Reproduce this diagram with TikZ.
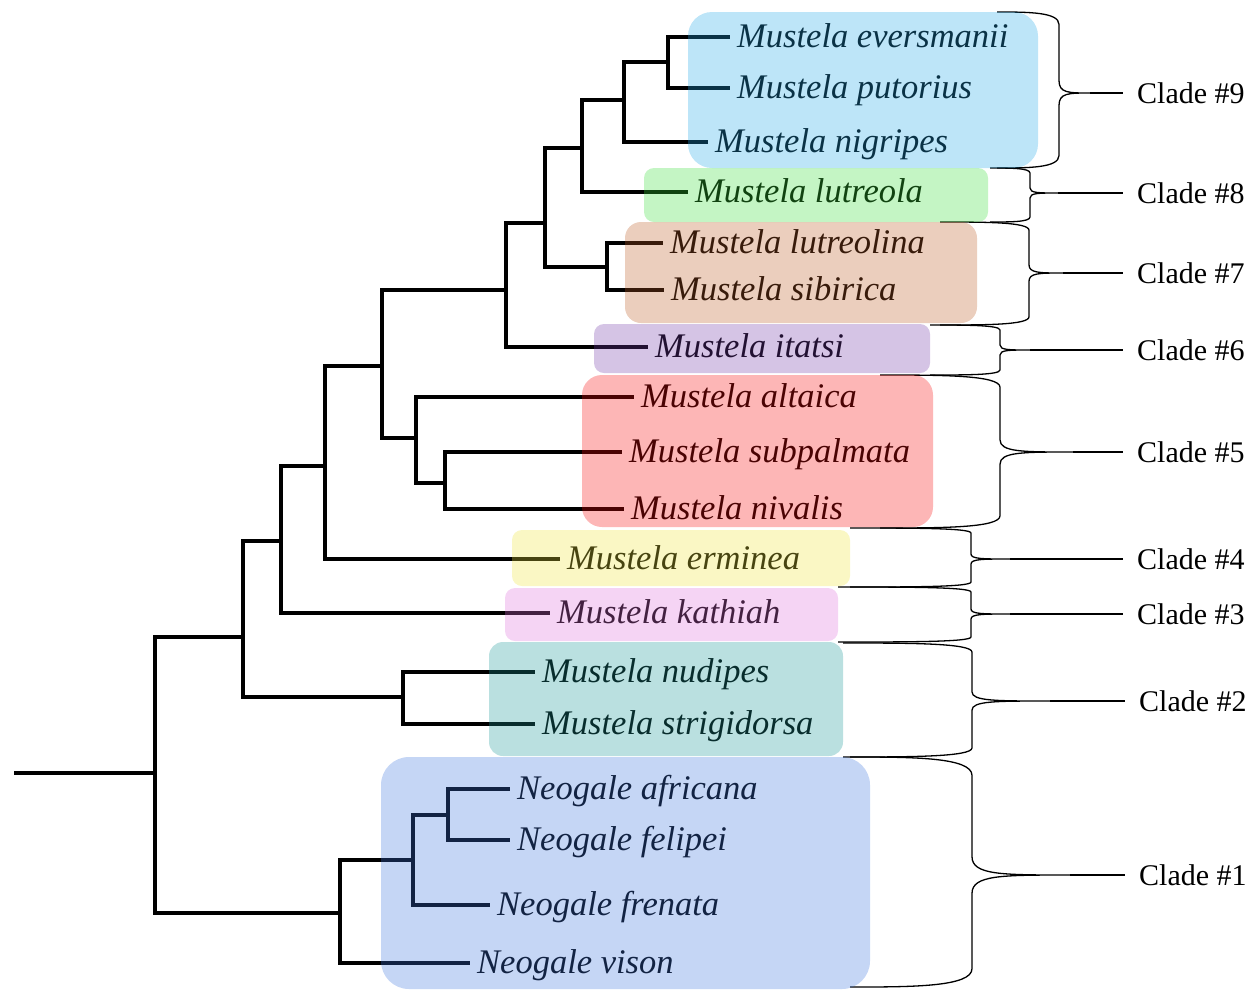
\documentclass[tikz,border=0pt]{standalone}
\usepackage{fontspec}
\setmainfont{Liberation Serif}
\usepackage{tikz}
\definecolor{hlnine}{RGB}{35,168,232}
\definecolor{hleight}{RGB}{58,222,58}
\definecolor{hlseven}{RGB}{188,92,38}
\definecolor{hlsix}{RGB}{115,58,168}
\definecolor{hlfive}{RGB}{248,12,12}
\definecolor{hlfour}{RGB}{238,228,58}
\definecolor{hlthree}{RGB}{222,112,218}
\definecolor{hltwo}{RGB}{28,152,152}
\definecolor{hlone}{RGB}{62,118,222}
% arm x, spine x, top, middle, bottom, tip x, label
\newcommand{\cladebrace}[7]{%
  \draw[brace] (#1,#3) .. controls ({(#1+#2)/2},#3) and (#2,#3) .. (#2,{#3+max(5,0.08*(#5-#3))})
    -- (#2,{#4-max(5,0.08*(#5-#3))}) .. controls (#2,#4) and ({#2+0.3*(#6-#2)},#4) .. (#6,#4)
    .. controls ({#2+0.3*(#6-#2)},#4) and (#2,#4) .. (#2,{#4+max(5,0.08*(#5-#3))})
    -- (#2,{#5-max(5,0.08*(#5-#3))}) .. controls (#2,#5) and ({(#1+#2)/2},#5) .. (#1,#5);
  \draw[tick] (#6,#4) -- (#7.west);}

\begin{document}
\begin{tikzpicture}[x=1pt, y=-1pt,
	branch/.style={line width=4pt},
	leaf/.style={anchor=west, inner xsep=7pt, inner ysep=0pt, text height=27pt, text depth=7pt, font=\fontsize{34.5}{40}\selectfont\itshape},
	clade/.style={anchor=west, inner xsep=14pt, inner ysep=0pt, text height=20pt, text depth=0pt, font=\fontsize{30}{36}\selectfont},
	brace/.style={line width=1.3pt},
	tick/.style={line width=2pt},
	hl/.style={fill opacity=0.3}]
			\useasboundingbox (0,0) rectangle (1260,989);
			\coordinate (base) at (14,773);
			\coordinate (n1) at (155,773);
			\coordinate (n2) at (243,637);
			\coordinate (n3) at (340,913);
			\coordinate (n4) at (413,860);
			\coordinate (n5) at (448,815);
			\coordinate (n6) at (403,697);
			\coordinate (n7) at (281,541);
			\coordinate (n8) at (325,466);
			\coordinate (n9) at (382,366);
			\coordinate (n10) at (416,438);
			\coordinate (n11) at (445,483);
			\coordinate (n12) at (506,290);
			\coordinate (n13) at (545,223);
			\coordinate (n14) at (607,267);
			\coordinate (n15) at (582,148);
			\coordinate (n16) at (624,100);
			\coordinate (n17) at (668,62);
			\node[leaf] (ever) at (730,37) {Mustela eversmanii};
			\node[leaf] (puto) at (730,88) {Mustela putorius};
			\node[leaf] (nigr) at (708,142) {Mustela nigripes};
			\node[leaf] (lutr) at (688,192) {Mustela lutreola};
			\node[leaf] (lutn) at (663,243) {Mustela lutreolina};
			\node[leaf] (sibi) at (664,290) {Mustela sibirica};
			\node[leaf] (itat) at (648,347) {Mustela itatsi};
			\node[leaf] (alta) at (634,397) {Mustela altaica};
			\node[leaf] (subp) at (622,452) {Mustela subpalmata};
			\node[leaf] (niva) at (624,509) {Mustela nivalis};
			\node[leaf] (ermi) at (560,559) {Mustela erminea};
			\node[leaf] (kath) at (550,613) {Mustela kathiah};
			\node[leaf] (nudi) at (535,672) {Mustela nudipes};
			\node[leaf] (stri) at (535,724) {Mustela strigidorsa};
			\node[leaf] (afri) at (510,789) {Neogale africana};
			\node[leaf] (feli) at (510,840) {Neogale felipei};
			\node[leaf] (fren) at (490,905) {Neogale frenata};
			\node[leaf] (viso) at (470,963) {Neogale vison};
			\draw[branch] (base) -- (n1) (n1) |- (n2) (n1) |- (n3)
				(n3) |- (n4) (n3) |- (viso.west) (n4) |- (n5) (n4) |- (fren.west)
				(n5) |- (afri.west) (n5) |- (feli.west)
				(n2) |- (n7) (n2) |- (n6) (n6) |- (nudi.west) (n6) |- (stri.west)
				(n7) |- (n8) (n7) |- (kath.west) (n8) |- (n9) (n8) |- (ermi.west)
				(n9) |- (n12) (n9) |- (n10) (n10) |- (alta.west) (n10) |- (n11)
				(n11) |- (subp.west) (n11) |- (niva.west)
				(n12) |- (n13) (n12) |- (itat.west) (n13) |- (n15) (n13) |- (n14)
				(n14) |- (lutn.west) (n14) |- (sibi.west) (n15) |- (n16) (n15) |- (lutr.west)
				(n16) |- (n17) (n16) |- (nigr.west) (n17) |- (ever.west) (n17) |- (puto.west);
			\node[clade] (c9) at (1123,93) {Clade \#9};
			\node[clade] (c8) at (1123,193) {Clade \#8};
			\node[clade] (c7) at (1123,273) {Clade \#7};
			\node[clade] (c6) at (1123,350) {Clade \#6};
			\node[clade] (c5) at (1123,452) {Clade \#5};
			\node[clade] (c4) at (1123,559) {Clade \#4};
			\node[clade] (c3) at (1123,614) {Clade \#3};
			\node[clade] (c2) at (1125,701) {Clade \#2};
			\node[clade] (c1) at (1125,875) {Clade \#1};
			\cladebrace{997}{1059}{12}{93}{168}{1090}{c9}
			\cladebrace{990}{1030}{168}{193}{222}{1058}{c8}
			\cladebrace{940}{1029}{222}{273}{325}{1063}{c7}
			\cladebrace{930}{1000}{325}{350}{375}{1030}{c6}
			\cladebrace{880}{1000}{375}{452}{528}{1073}{c5}
			\cladebrace{850}{971}{528}{559}{587}{1010}{c4}
			\cladebrace{838}{971}{587}{614}{642}{1010}{c3}
			\cladebrace{843}{972}{643}{701}{757}{1050}{c2}
			\cladebrace{850}{972}{757}{875}{987}{1070}{c1}
			\fill[hl, fill=hlnine, rounded corners=24pt] (688,12) rectangle (1038,168);
			\fill[hl, fill=hleight, rounded corners=10pt] (644,168) rectangle (988,222);
			\fill[hl, fill=hlseven, rounded corners=16pt] (625,222) rectangle (977,323);
			\fill[hl, fill=hlsix, rounded corners=10pt] (594,324) rectangle (930,373);
			\fill[hl, fill=hlfive, rounded corners=20pt] (582,375) rectangle (933,527);
			\fill[hl, fill=hlfour, rounded corners=10pt] (512,530) rectangle (850,586);
			\fill[hl, fill=hlthree, rounded corners=10pt] (505,588) rectangle (838,641);
			\fill[hl, fill=hltwo, rounded corners=14pt] (489,642) rectangle (843,756);
			\fill[hl, fill=hlone, rounded corners=28pt] (381,757) rectangle (870,989);
		\end{tikzpicture}
\end{document}
